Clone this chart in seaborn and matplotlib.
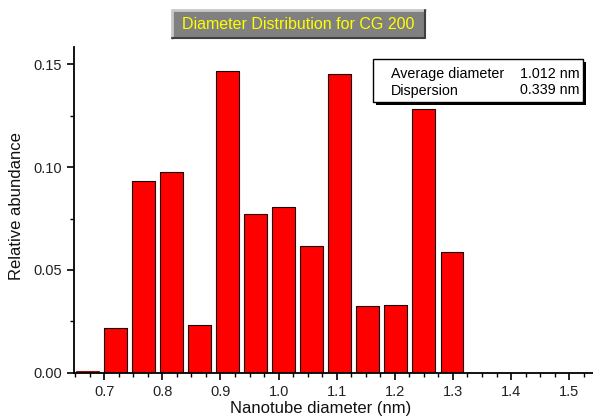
import numpy as np
import pandas as pd
import matplotlib
matplotlib.use("Agg")
import matplotlib.pyplot as plt
import matplotlib.patches as mpatches
from matplotlib.ticker import MultipleLocator, FormatStrFormatter
import seaborn as sns

# ---- data ----
diameters = [0.6713, 0.7195, 0.7677, 0.8159, 0.8641, 0.9123, 0.9605,
             1.0087, 1.0569, 1.1051, 1.1533, 1.2015, 1.2497, 1.2979]
abundance = [0.0008, 0.0216, 0.0931, 0.0978, 0.0232, 0.1466, 0.0770,
             0.0804, 0.0615, 0.1454, 0.0323, 0.0328, 0.1281, 0.0586]
title_text = "Diameter Distribution for CG 200"
x_label = "Nanotube diameter (nm)"
y_label = "Relative abundance"
stats_names = ["Average diameter", "Dispersion"]
stats_values = ["1.012 nm", "0.339 nm"]
x_ticks = [0.7, 0.8, 0.9, 1.0, 1.1, 1.2, 1.3, 1.4, 1.5]
y_ticks = [0.00, 0.05, 0.10, 0.15]

df = pd.DataFrame({"diameter": diameters, "abundance": abundance})

sns.set_style("ticks")
plt.rcParams["font.family"] = ["Liberation Sans", "DejaVu Sans"]

W, H = 593, 418
fig = plt.figure(figsize=(W / 100, H / 100), dpi=100)
ax = fig.add_axes([74 / W, 1 - 372.7 / H, 1 - 74 / W, (372.7 - 46.7) / H])

sns.barplot(data=df, x="diameter", y="abundance", native_scale=True,
            width=0.8, color="#ff0000", saturation=1, edgecolor="#1a0000",
            linewidth=0.8, errorbar=None, ax=ax)
ax.patches[0].set_edgecolor("#8b1a1a")

ax.set_xlim(0.648, 1.541)
ax.set_ylim(0, 0.1586)
ax.set_xticks(x_ticks)
ax.set_yticks(y_ticks)
ax.xaxis.set_major_formatter(FormatStrFormatter("%.1f"))
ax.yaxis.set_major_formatter(FormatStrFormatter("%.2f"))
ax.xaxis.set_minor_locator(MultipleLocator(0.025))
ax.yaxis.set_minor_locator(MultipleLocator(0.025))
ax.tick_params(which="major", length=5, width=1.2, color="black",
               labelsize=10.5, labelcolor="#222222", direction="out")
ax.tick_params(which="minor", length=3, width=1.0, color="black", direction="out")
for side in ["top", "right"]:
    ax.spines[side].set_visible(False)
for side in ["left", "bottom"]:
    ax.spines[side].set_linewidth(1.3)
    ax.spines[side].set_color("black")

ax.set_xlabel(x_label, fontsize=12, color="#111111")
ax.set_ylabel(y_label, fontsize=12, color="#111111")
ax.xaxis.set_label_coords((321 - 74) / (W - 74), -(408 - 372.7) / (372.7 - 46.7))
ax.yaxis.set_label_coords(-(74 - 17) / (W - 74), (372.7 - 206) / (372.7 - 46.7))
ax.xaxis.label.set_va("center")
ax.yaxis.label.set_va("center")

# ---- title box ----
bx0, by0, bx1, by1 = 172, 10, 425, 38
fig.patches.append(mpatches.Rectangle((bx0 / W, 1 - by1 / H), (bx1 - bx0) / W, (by1 - by0) / H,
                                      transform=fig.transFigure, facecolor="#808080",
                                      edgecolor="none", zorder=1))
fig.add_artist(plt.Line2D([bx0 / W, bx1 / W], [1 - by0 / H, 1 - by0 / H],
                          transform=fig.transFigure, color="#c8c8c8", lw=2))
fig.add_artist(plt.Line2D([bx0 / W, bx0 / W], [1 - by0 / H, 1 - by1 / H],
                          transform=fig.transFigure, color="#c8c8c8", lw=2))
fig.add_artist(plt.Line2D([bx0 / W, bx1 / W], [1 - by1 / H, 1 - by1 / H],
                          transform=fig.transFigure, color="#404040", lw=1.5))
fig.add_artist(plt.Line2D([bx1 / W, bx1 / W], [1 - by0 / H, 1 - by1 / H],
                          transform=fig.transFigure, color="#404040", lw=1.5))
fig.text((bx0 + bx1) / 2 / W, 1 - 24.5 / H, title_text, ha="center", va="center",
         color="#ffff00", fontsize=11.5, zorder=3)

# ---- statistics box ----
sx0, sy0, sx1, sy1 = 373, 59, 583, 102
fig.patches.append(mpatches.Rectangle(((sx0 + 3) / W, 1 - (sy1 + 3) / H), (sx1 - sx0) / W,
                                      (sy1 - sy0) / H, transform=fig.transFigure,
                                      facecolor="black", edgecolor="none", zorder=4))
fig.patches.append(mpatches.Rectangle((sx0 / W, 1 - sy1 / H), (sx1 - sx0) / W,
                                      (sy1 - sy0) / H, transform=fig.transFigure,
                                      facecolor="white", edgecolor="black", lw=1, zorder=5))
for i, (name, val) in enumerate(zip(stats_names, stats_values)):
    yy = 1 - (74 + 16.5 * i) / H
    fig.text(391 / W, yy, name, ha="left", va="center", fontsize=10.3, color="black", zorder=6)
    fig.text(579.5 / W, yy, val, ha="right", va="center", fontsize=10.3, color="black", zorder=6)

fig.savefig("out.png", dpi=100)
